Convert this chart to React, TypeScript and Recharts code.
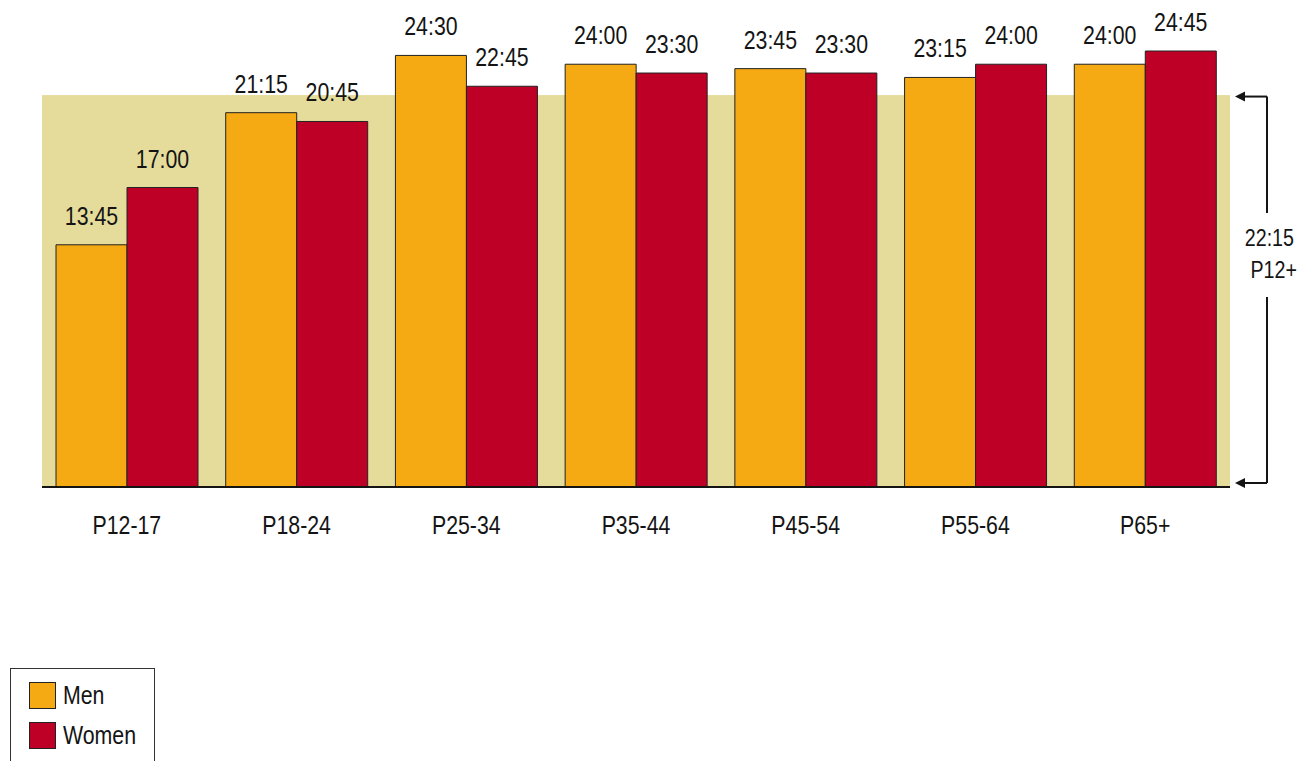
import React from 'react';
import { BarChart, Bar, XAxis, YAxis, ReferenceArea, LabelList, Legend } from 'recharts';

const categories = ['P12-17', 'P18-24', 'P25-34', 'P35-44', 'P45-54', 'P55-64', 'P65+'];
const menHours = [13.75, 21.25, 24.5, 24, 23.75, 23.25, 24];
const womenHours = [17, 20.75, 22.75, 23.5, 23.5, 24, 24.75];
const overallLabel = 'P12+';
const overallHours = 22.25;
const seriesNames = ['Men', 'Women'];

const data = categories.map((c, i) => ({ cat: c, men: menHours[i], women: womenHours[i] }));

const FONT = '"Liberation Sans", Arial, sans-serif';
const SQUEEZE = 0.82;
const MEN = '#F5A912';
const WOMEN = '#BE0027';
const BAND = '#E5DC9C';
const INK = '#141414';

const fmt = (v: any) => {
  const n = Number(v);
  const h = Math.floor(n);
  const m = Math.round((n - h) * 60);
  return `${h}:${m < 10 ? '0' + m : m}`;
};

const NarrowText = ({ x, y, size, anchor, children }: any) => (
  <text
    x={0}
    y={0}
    transform={`translate(${x},${y}) scale(${SQUEEZE},1)`}
    textAnchor={anchor || 'middle'}
    fontSize={size}
    fontFamily={FONT}
    fill={INK}
  >
    {children}
  </text>
);

const BarLabel = (props: any) => {
  const { x, y, width, value } = props;
  return <NarrowText x={Number(x) + Number(width) / 2} y={Number(y) - 20} size={26}>{fmt(value)}</NarrowText>;
};

const CatTick = (props: any) => {
  const { x, y, payload } = props;
  return <NarrowText x={x} y={Number(y) + 18.5} size={26}>{payload.value}</NarrowText>;
};

const BandShape = (props: any) => {
  const { x, y, width, height } = props;
  const right = x + width;
  const lineX = right + 37;
  const topY = y + 1.5;
  const botY = y + height - 4;
  const tipX = right + 5;
  return (
    <g>
      <rect x={x} y={y} width={width} height={height} fill={BAND} />
      <line x1={tipX + 8} y1={topY} x2={lineX} y2={topY} stroke={INK} strokeWidth={2} />
      <polygon points={`${tipX},${topY} ${tipX + 10},${topY - 5} ${tipX + 10},${topY + 5}`} fill={INK} />
      <line x1={lineX} y1={topY} x2={lineX} y2={y + 118} stroke={INK} strokeWidth={2} />
      <line x1={lineX} y1={y + 202} x2={lineX} y2={botY} stroke={INK} strokeWidth={2} />
      <line x1={tipX + 8} y1={botY} x2={lineX} y2={botY} stroke={INK} strokeWidth={2} />
      <polygon points={`${tipX},${botY} ${tipX + 10},${botY - 5} ${tipX + 10},${botY + 5}`} fill={INK} />
      <NarrowText x={right + 64} y={y + 151} size={24} anchor="end">{fmt(overallHours)}</NarrowText>
      <NarrowText x={right + 67} y={y + 183} size={24} anchor="end">{overallLabel}</NarrowText>
    </g>
  );
};

const LegendBox = (props: any) => {
  const items = props.payload || [];
  return (
    <div style={{ border: '1px solid #333', width: 145, height: 110, boxSizing: 'border-box', paddingTop: 6, paddingLeft: 18, fontFamily: FONT, fontSize: 26, color: INK, lineHeight: 1 }}>
      {items.map((it: any) => (
        <div key={it.value} style={{ display: 'flex', alignItems: 'center', height: 40, whiteSpace: 'nowrap' }}>
          <span style={{ display: 'inline-block', width: 25, height: 25, background: it.color, border: '1px solid #222', marginRight: 7, flex: 'none' }} />
          <span style={{ display: 'inline-block', transform: `scaleX(${SQUEEZE})`, transformOrigin: 'left center' }}>{it.value}</span>
        </div>
      ))}
    </div>
  );
};

export default function App() {
  return (
    <div style={{ position: 'absolute', left: 0, top: 0, width: 1301, height: 761, overflow: 'hidden', background: '#fff' }}>
      <BarChart
        width={1301}
        height={761}
        data={data}
        margin={{ top: 29, right: 71, bottom: 244, left: 42 }}
        barCategoryGap={14}
        barGap={0}
      >
        <YAxis hide domain={[0, 26]} />
        <ReferenceArea y1={0} y2={overallHours} shape={BandShape} ifOverflow="visible" />
        <XAxis
          dataKey="cat"
          height={30}
          axisLine={{ stroke: INK, strokeWidth: 2 }}
          tickLine={false}
          tickSize={6}
          tickMargin={22}
          tick={<CatTick />}
        />
        <Bar dataKey="men" name={seriesNames[0]} fill={MEN} stroke="#222" strokeWidth={1} isAnimationActive={false}>
          <LabelList dataKey="men" position="top" content={<BarLabel />} />
        </Bar>
        <Bar dataKey="women" name={seriesNames[1]} fill={WOMEN} stroke="#222" strokeWidth={1} isAnimationActive={false}>
          <LabelList dataKey="women" position="top" content={<BarLabel />} />
        </Bar>
        <Legend
          layout="vertical"
          align="center"
          verticalAlign="middle"
          content={<LegendBox />}
          wrapperStyle={{ left: 10, top: 668, width: 145, right: 'auto', bottom: 'auto' }}
        />
      </BarChart>
    </div>
  );
}
